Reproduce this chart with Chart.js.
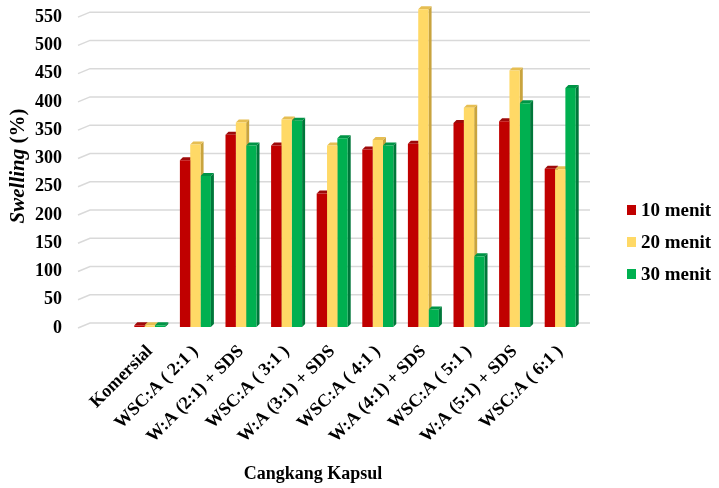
<!DOCTYPE html>
<html>
<head>
<meta charset="utf-8">
<script src="https://cdn.jsdelivr.net/npm/chart.js@4.4.0/dist/chart.umd.min.js"></script>
<style>
  html, body { margin: 0; padding: 0; background: #fff; }
  #wrap { width: 719px; height: 488px; position: relative; }
</style>
</head>
<body>
<div id="wrap"><canvas id="swellChart"></canvas></div>
<script>
// swelling data
const categories = [
  "Komersial", "WSC:A ( 2:1 )", "W:A (2:1) + SDS", "WSC:A ( 3:1 )", "W:A (3:1) + SDS",
  "WSC:A ( 4:1 )", "W:A (4:1) + SDS", "WSC:A ( 5:1 )", "W:A (5:1) + SDS", "WSC:A ( 6:1 )"
];
const seriesNames = ["10 menit", "20 menit", "30 menit"];
const menit10 = [3, 295, 340, 321, 236, 314, 324, 361, 364, 280];
const menit20 = [3, 323, 362, 367, 321, 331, 562, 388, 454, 279];
const menit30 = [3, 267, 321, 365, 334, 321, 31, 125, 396, 423];
const yTicks = [0, 50, 100, 150, 200, 250, 300, 350, 400, 450, 500, 550];

const fronts = ["#C00000", "#FFD966", "#00B050"];
const sides = ["#7E0000", "#C9A43E", "#00773A"];
const caps = ["#9E0A0A", "#E6BE52", "#009446"];

const serif = "'Liberation Serif', 'Times New Roman', serif";
const DX = 3, DY = 3;   // fake depth of the 3d columns
const WALL = 4;         // back wall sits a bit higher than the bar fronts

// back wall grid + side/top faces of the columns, drawn under the fronts
const depthPlugin = {
  id: "depth",
  beforeDatasetsDraw(chart) {
    const ctx = chart.ctx;
    const y = chart.scales.y;
    const area = chart.chartArea;
    ctx.save();
    ctx.strokeStyle = "#d9d9d9";
    ctx.lineWidth = 1.5;
    yTicks.forEach(v => {
      const py = y.getPixelForValue(v) - WALL;
      ctx.beginPath();
      ctx.moveTo(78, py + 5);
      ctx.lineTo(90, py);
      ctx.lineTo(area.right + 7, py);
      ctx.stroke();
    });
    chart.data.datasets.forEach((ds, i) => {
      const meta = chart.getDatasetMeta(i);
      meta.data.forEach(bar => {
        const left = bar.x - bar.width / 2;
        const right = bar.x + bar.width / 2;
        const top = bar.y, base = bar.base;
        ctx.fillStyle = sides[i];
        ctx.beginPath();
        ctx.moveTo(right, top);
        ctx.lineTo(right + DX, top - DY);
        ctx.lineTo(right + DX, base - DY);
        ctx.lineTo(right, base);
        ctx.closePath();
        ctx.fill();
        ctx.fillStyle = caps[i];
        ctx.beginPath();
        ctx.moveTo(left, top);
        ctx.lineTo(left + DX, top - DY);
        ctx.lineTo(right + DX, top - DY);
        ctx.lineTo(right, top);
        ctx.closePath();
        ctx.fill();
      });
    });
    ctx.restore();
  },
  afterDraw(chart) {
    const ctx = chart.ctx;
    const y = chart.scales.y;
    ctx.save();
    ctx.fillStyle = "#000";
    // y tick labels, right aligned well left of the columns
    ctx.font = "bold 18px " + serif;
    ctx.textAlign = "right";
    ctx.textBaseline = "middle";
    yTicks.forEach(v => {
      ctx.fillText(String(v), 62, y.getPixelForValue(v) + 1);
    });
    ctx.restore();

    ctx.save();
    ctx.fillStyle = "#000";
    // y title, italic "Swelling" + plain bold "(%)"
    ctx.translate(19, 166);
    ctx.rotate(-Math.PI / 2);
    ctx.textBaseline = "middle";
    const f1 = "italic bold 21px " + serif, f2 = "bold 21px " + serif;
    ctx.font = f1;
    const w1 = ctx.measureText("Swelling ").width;
    ctx.font = f2;
    const w2 = ctx.measureText("(%)").width;
    const x0 = -(w1 + w2) / 2;
    ctx.textAlign = "left";
    ctx.font = f1;
    ctx.fillText("Swelling ", x0, 0);
    ctx.font = f2;
    ctx.fillText("(%)", x0 + w1, 0);
    ctx.restore();

    ctx.save();
    ctx.fillStyle = "#000";
    ctx.font = "bold 18px " + serif;
    ctx.textAlign = "center";
    ctx.textBaseline = "middle";
    ctx.fillText("Cangkang Kapsul", 313, 474);

    // legend on the right
    ctx.textAlign = "left";
    ctx.font = "bold 19px " + serif;
    chart.data.datasets.forEach((ds, i) => {
      const cy = 210 + i * 32;
      ctx.fillStyle = ds.backgroundColor;
      ctx.fillRect(627, cy - 5, 9, 10);
      ctx.fillStyle = "#000";
      ctx.fillText(ds.label, 641, cy + 1);
    });
    ctx.restore();
  }
};

new Chart(document.getElementById("swellChart"), {
  type: "bar",
  data: {
    labels: categories,
    datasets: [
      { label: seriesNames[0], data: menit10, backgroundColor: fronts[0] },
      { label: seriesNames[1], data: menit20, backgroundColor: fronts[1] },
      { label: seriesNames[2], data: menit30, backgroundColor: fronts[2] }
    ]
  },
  options: {
    responsive: true,
    maintainAspectRatio: false,
    animation: false,
    layout: { padding: { left: 0, right: 136, top: 2, bottom: 0 } },
    datasets: { bar: { barPercentage: 1, categoryPercentage: 0.68 } },
    plugins: {
      legend: { display: false },
      tooltip: { enabled: false }
    },
    scales: {
      x: {
        grid: { display: false },
        border: { display: false },
        ticks: {
          minRotation: 45,
          maxRotation: 45,
          padding: 6,
          autoSkip: false,
          color: "#000",
          font: { family: serif, size: 18, weight: "bold" }
        },
        afterFit(scale) { scale.height = 161; }
      },
      y: {
        min: 0,
        max: 575,
        grid: { display: false },
        border: { display: false },
        ticks: { display: false, padding: 0 },
        afterBuildTicks(scale) {
          scale.ticks = yTicks.map(v => ({ value: v }));
        },
        afterFit(scale) { scale.width = 127; }
      }
    }
  },
  plugins: [depthPlugin]
});
</script>
</body>
</html>
